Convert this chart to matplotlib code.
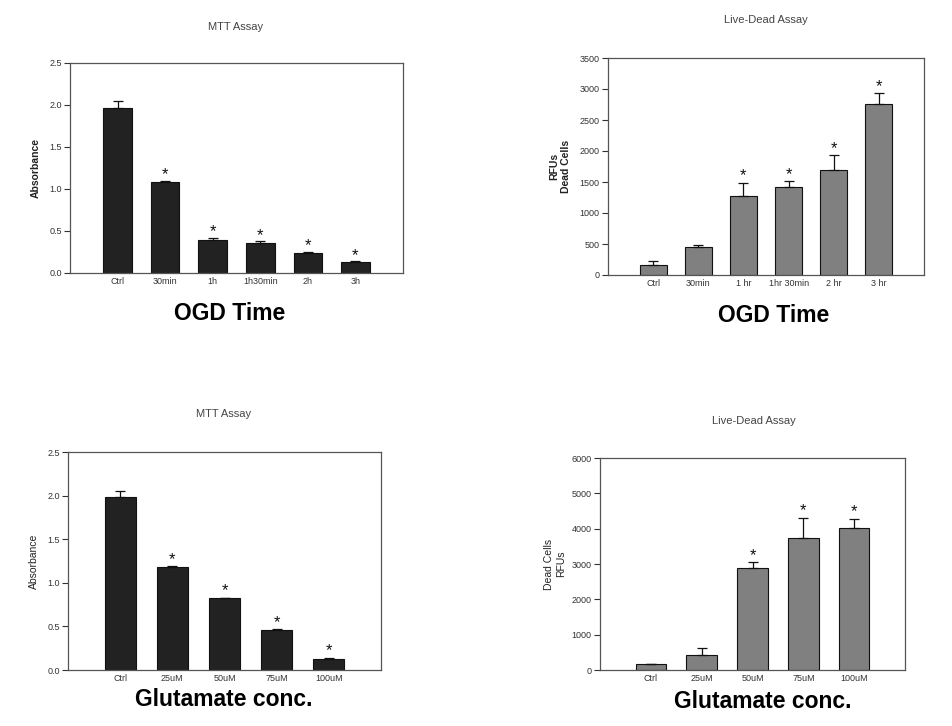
import matplotlib
matplotlib.use("Agg")
import matplotlib.pyplot as plt

plt.rcParams['font.family'] = ['Liberation Sans', 'DejaVu Sans']

# -----------------------------
# DATA
# -----------------------------
ogd_labels_mtt = ["Ctrl", "30min", "1h", "1h30min", "2h", "3h"]
ogd_mtt = [1.97, 1.08, 0.39, 0.36, 0.24, 0.13]
ogd_mtt_err = [0.08, 0.02, 0.03, 0.02, 0.01, 0.01]
ogd_mtt_sig = [False, True, True, True, True, True]

ogd_labels_ld = ["Ctrl", "30min", "1 hr", "1hr 30min", "2 hr", "3 hr"]
ogd_ld = [160, 450, 1280, 1420, 1700, 2750]
ogd_ld_err = [60, 30, 210, 90, 230, 180]
ogd_ld_sig = [False, False, True, True, True, True]

glu_labels = ["Ctrl", "25uM", "50uM", "75uM", "100uM"]
glu_mtt = [1.98, 1.18, 0.82, 0.46, 0.13]
glu_mtt_err = [0.07, 0.01, 0.01, 0.005, 0.01]
glu_mtt_sig = [False, True, True, True, True]

glu_ld = [160, 420, 2900, 3750, 4020]
glu_ld_err = [20, 190, 150, 550, 250]
glu_ld_sig = [False, False, True, True, True]

W, H = 952, 726
fig = plt.figure(figsize=(W / 100, H / 100), dpi=100)


def box(left, top, right, bottom):
    return [left / W, 1 - bottom / H, (right - left) / W, (bottom - top) / H]


def panel(rect, labels, vals, errs, sig, color, ymax, ystep, fmt,
          ylabel, ybold, title, title_xy, xname, xname_xy, star_off, labelpad=6):
    ax = fig.add_axes(box(*rect))
    x = list(range(len(vals)))
    ax.bar(x, vals, width=0.6, color=color, edgecolor="#111111", linewidth=0.8, zorder=2)
    ax.errorbar(x, vals, yerr=[[0] * len(errs), errs], fmt="none",
                ecolor="#111111", elinewidth=0.9, capsize=3.5, capthick=0.9, zorder=3)
    for xi, v, e, s in zip(x, vals, errs, sig):
        if s:
            ax.text(xi, v + e + star_off, "*", ha="center", va="center",
                    fontsize=12, color="#111111")
    ax.set_xlim(-1, len(vals))
    ax.set_ylim(0, ymax)
    ticks = [i * ystep for i in range(int(round(ymax / ystep)) + 1)]
    ax.set_yticks(ticks)
    ax.set_yticklabels([fmt.format(t) for t in ticks])
    ax.set_xticks(x)
    ax.set_xticklabels(labels)
    ax.tick_params(axis="x", length=0, labelsize=6.5, colors="#333333", pad=3)
    ax.tick_params(axis="y", length=4, width=0.8, labelsize=6.5, colors="#333333",
                   direction="out", pad=2)
    for sp in ax.spines.values():
        sp.set_color("#555555")
        sp.set_linewidth(0.9)
    ax.set_ylabel(ylabel, fontsize=7.5, fontweight="bold" if ybold else "normal",
                  color="#222222", labelpad=labelpad, linespacing=1.3)
    fig.text(title_xy[0] / W, 1 - title_xy[1] / H, title, ha="center", va="center",
             fontsize=8, color="#444444")
    fig.text(xname_xy[0] / W, 1 - xname_xy[1] / H, xname, ha="center", va="center",
             fontsize=16.5, fontweight="bold", color="black")
    return ax


panel((70, 63, 403, 273), ogd_labels_mtt, ogd_mtt, ogd_mtt_err, ogd_mtt_sig,
      "#222222", 2.5, 0.5, "{:.1f}", "Absorbance", True,
      "MTT Assay", (236, 27), "OGD Time", (230, 313), 0.07)

panel((608, 58, 924, 275), ogd_labels_ld, ogd_ld, ogd_ld_err, ogd_ld_sig,
      "#808080", 3500, 500, "{:.0f}", "RFUs\nDead Cells", True,
      "Live-Dead Assay", (766, 20), "OGD Time", (774, 315), 110)

panel((68, 452, 381, 670), glu_labels, glu_mtt, glu_mtt_err, glu_mtt_sig,
      "#222222", 2.5, 0.5, "{:.1f}", "Absorbance", False,
      "MTT Assay", (224, 414), "Glutamate conc.", (224, 700), 0.08)

panel((600, 458, 905, 670), glu_labels, glu_ld, glu_ld_err, glu_ld_sig,
      "#808080", 6000, 1000, "{:.0f}", "Dead Cells\nRFUs", False,
      "Live-Dead Assay", (754, 421), "Glutamate conc.", (763, 701), 200, labelpad=4)

fig.savefig("out.png", dpi=100, facecolor="white")
